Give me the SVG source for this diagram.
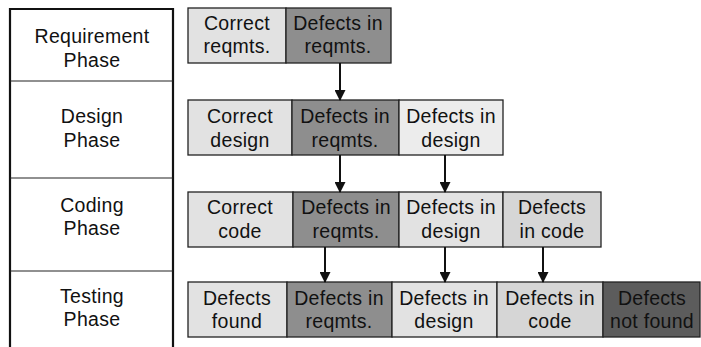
<svg xmlns="http://www.w3.org/2000/svg" width="701" height="347" viewBox="0 0 701 347">
<style>
text{font-family:"Liberation Sans",Arial,sans-serif;font-size:19.5px;letter-spacing:0.3px;fill:#111;text-anchor:middle}
.b{stroke:#222;stroke-width:1.3}
.lt{fill:#e2e2e2}
.wh{fill:#ececec}
.md{fill:#d6d6d6}
.dk{fill:#8e8e8e}
.xd{fill:#5c5c5c}
.ph{fill:none;stroke:#111;stroke-width:2.2}
.dv{stroke:#222;stroke-width:1.2}
.ar{stroke:#111;stroke-width:2;fill:none;marker-end:url(#ah)}
</style>
<defs>
<marker id="ah" markerWidth="11" markerHeight="11" refX="10" refY="5.5" orient="auto" markerUnits="userSpaceOnUse" viewBox="0 0 11 11">
<path d="M0,0 L11,5.5 L0,11 Z" fill="#111"/>
</marker>
</defs>
<rect width="701" height="347" fill="#fff"/>
<g id="phases">
<path class="ph" d="M10,347 V9 H173 V347"/>
<line class="dv" x1="10" y1="81" x2="173" y2="81"/>
<line class="dv" x1="10" y1="178" x2="173" y2="178"/>
<line class="dv" x1="10" y1="271" x2="173" y2="271"/>
<g id="p-req"><text x="92" y="43">Requirement</text><text x="92" y="67">Phase</text></g>
<g id="p-des"><text x="92" y="123">Design</text><text x="92" y="147">Phase</text></g>
<g id="p-cod"><text x="92" y="212">Coding</text><text x="92" y="235">Phase</text></g>
<g id="p-tst"><text x="92" y="303">Testing</text><text x="92" y="326">Phase</text></g>
</g>
<g id="r1-correct"><rect class="b lt" x="188" y="8" width="98" height="55"/><text x="237" y="30">Correct</text><text x="237" y="53">reqmts.</text></g>
<g id="r1-defreq"><rect class="b dk" x="286" y="8" width="105" height="55"/><text x="338" y="30">Defects in</text><text x="338" y="53">reqmts.</text></g>
<g id="r2-correct"><rect class="b lt" x="188" y="100" width="104" height="55"/><text x="240" y="123">Correct</text><text x="240" y="147">design</text></g>
<g id="r2-defreq"><rect class="b dk" x="292" y="100" width="107" height="55"/><text x="345" y="123">Defects in</text><text x="345" y="147">reqmts.</text></g>
<g id="r2-defdes"><rect class="b wh" x="399" y="100" width="104" height="55"/><text x="451" y="123">Defects in</text><text x="451" y="147">design</text></g>
<g id="r3-correct"><rect class="b lt" x="188" y="192" width="105" height="55"/><text x="240" y="214">Correct</text><text x="240" y="238">code</text></g>
<g id="r3-defreq"><rect class="b dk" x="293" y="192" width="106" height="55"/><text x="346" y="214">Defects in</text><text x="346" y="238">reqmts.</text></g>
<g id="r3-defdes"><rect class="b lt" x="399" y="192" width="104" height="55"/><text x="451" y="214">Defects in</text><text x="451" y="238">design</text></g>
<g id="r3-defcode"><rect class="b md" x="503" y="192" width="98" height="55"/><text x="552" y="214">Defects</text><text x="552" y="238">in code</text></g>
<g id="r4-found"><rect class="b lt" x="188" y="282" width="99" height="55"/><text x="237" y="305">Defects</text><text x="237" y="328">found</text></g>
<g id="r4-defreq"><rect class="b dk" x="287" y="282" width="105" height="55"/><text x="339" y="305">Defects in</text><text x="339" y="328">reqmts.</text></g>
<g id="r4-defdes"><rect class="b lt" x="392" y="282" width="105" height="55"/><text x="444" y="305">Defects in</text><text x="444" y="328">design</text></g>
<g id="r4-defcode"><rect class="b md" x="497" y="282" width="106" height="55"/><text x="550" y="305">Defects in</text><text x="550" y="328">code</text></g>
<g id="r4-notfound"><rect class="b xd" x="603" y="282" width="97" height="55"/><text x="652" y="305">Defects</text><text x="652" y="328">not found</text></g>
<g id="connectors">
<line class="ar" x1="340" y1="63" x2="340" y2="100"/>
<line class="ar" x1="340" y1="155" x2="340" y2="192"/>
<line class="ar" x1="445" y1="155" x2="445" y2="192"/>
<line class="ar" x1="325" y1="247" x2="325" y2="282"/>
<line class="ar" x1="445" y1="247" x2="445" y2="282"/>
<line class="ar" x1="543" y1="247" x2="543" y2="282"/>
</g>
</svg>
